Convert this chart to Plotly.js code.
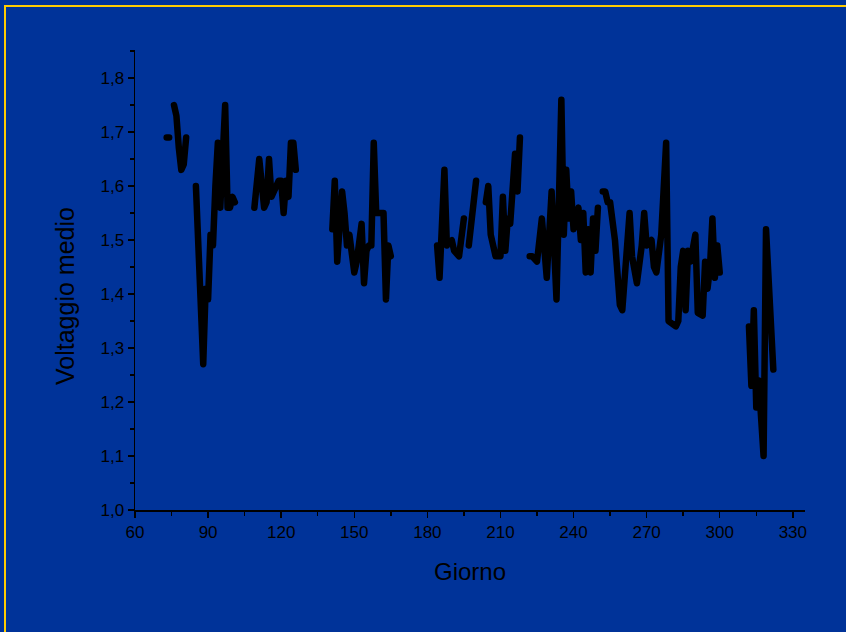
<!DOCTYPE html>
<html>
<head>
<meta charset="utf-8">
<script src="https://cdn.plot.ly/plotly-3.0.1.min.js"></script>
<style>
  html, body { margin:0; padding:0; background:#003399; overflow:hidden; }
  #frame { position:absolute; left:4px; top:5px; width:900px; height:700px; border:2px solid #FFCC00; box-sizing:border-box; }
  #chart { position:absolute; left:0; top:0; width:846px; height:632px; }
  .js-line { stroke-linecap: round; stroke-linejoin: round; }
</style>
</head>
<body>
<div id="frame"></div>
<div id="chart"></div>
<script>
// Giorno (day) and Voltaggio medio; null marks a gap in the record
const giorni = [
  73, 74, 75,
  76, 77, 78, 79, 80, 81, 83,
  85, 88, 89, 90, 91, 92, 93, 94, 95, 96, 97, 98, 99, 100, 101, 105,
  109, 111, 113, 114, 115, 116, 119, 120, 121, 122, 123, 124, 125, 126, 133,
  141, 142, 143, 145, 146, 147, 148, 149, 150, 151, 153, 154, 155, 156, 157, 158, 159, 160, 161, 162, 163, 164, 165, 175,
  184, 185, 187, 188, 189, 190, 191, 193, 195, 196, 197, 200, 202,
  204, 205, 206, 208, 210, 211, 212, 213, 214, 216, 217, 218, 220,
  222, 223, 225, 227, 229, 231, 233, 235, 236, 237, 238, 239, 240, 242, 243, 244, 245, 246, 247, 248, 249, 250, 251,
  252, 253, 254, 255, 257, 258, 259, 260, 261, 263, 264, 266, 268, 269, 270, 272, 273, 274, 275, 276, 278, 279,
  282, 283, 284, 285, 286, 287, 288, 289, 290, 291, 293, 294, 295, 296, 297, 298, 299, 300, 305,
  312, 313, 314, 315, 316, 318, 319, 321, 322
];
const voltaggio = [
  1.69, 1.69, null,
  1.75, 1.73, 1.67, 1.63, 1.64, 1.69, null,
  1.60, 1.27, 1.41, 1.39, 1.51, 1.49, 1.60, 1.68, 1.56, 1.66, 1.75, 1.56, 1.56, 1.58, 1.57, null,
  1.56, 1.65, 1.56, 1.57, 1.65, 1.58, 1.61, 1.61, 1.55, 1.61, 1.58, 1.68, 1.68, 1.63, null,
  1.52, 1.61, 1.46, 1.59, 1.55, 1.49, 1.51, 1.47, 1.44, 1.46, 1.53, 1.42, 1.48, 1.49, 1.49, 1.68, 1.55, 1.55, 1.55, 1.55, 1.39, 1.49, 1.47, null,
  1.49, 1.43, 1.63, 1.49, null, 1.50, 1.48, 1.47, 1.54, null, 1.49, 1.61, null,
  1.57, 1.60, 1.51, 1.47, 1.47, 1.58, 1.48, 1.54, 1.53, 1.66, 1.59, 1.69, null,
  1.47, 1.47, 1.46, 1.54, 1.43, 1.59, 1.39, 1.76, 1.51, 1.63, 1.54, 1.59, 1.52, 1.56, 1.50, 1.55, 1.44, 1.52, 1.44, 1.54, 1.48, 1.56, null,
  1.59, 1.59, 1.57, 1.57, 1.50, 1.41, 1.38, 1.37, 1.44, 1.55, 1.47, 1.42, 1.49, 1.55, 1.49, 1.50, 1.45, 1.44, 1.475, 1.51, 1.68, 1.35,
  1.34, 1.35, 1.45, 1.48, 1.37, 1.48, 1.46, 1.48, 1.51, 1.365, 1.36, 1.46, 1.41, 1.45, 1.54, 1.43, 1.49, 1.44, null,
  1.34, 1.23, 1.37, 1.19, 1.24, 1.10, 1.52, 1.32, 1.26
];
const xTicks = [60, 90, 120, 150, 180, 210, 240, 270, 300, 330];
const yTicks = [1.0, 1.1, 1.2, 1.3, 1.4, 1.5, 1.6, 1.7, 1.8];
const xTitle = 'Giorno';
const yTitle = 'Voltaggio medio';

const trace = {
  x: giorni, y: voltaggio, type: 'scatter', mode: 'lines',
  line: { color: '#000000', width: 6.5 }, connectgaps: false, hoverinfo: 'skip'
};

const fam = 'Liberation Sans, Arial, sans-serif';
const axisFont = { family: fam, size: 17, color: '#000000' };

const layout = {
  width: 846, height: 632,
  margin: { l: 135, r: 41, t: 50, b: 122 },
  paper_bgcolor: 'rgba(0,0,0,0)', plot_bgcolor: 'rgba(0,0,0,0)',
  separators: ',.',
  showlegend: false,
  font: axisFont,
  xaxis: {
    range: [60, 335], tickvals: xTicks, ticktext: xTicks.map(String),
    showline: true, linecolor: '#000000', linewidth: 1.5,
    ticks: 'outside', ticklen: 6, tickwidth: 1.5, tickcolor: '#000000',
    minor: { dtick: 15, tick0: 60, ticks: 'outside', ticklen: 4, tickwidth: 1.5, tickcolor: '#000000' },
    showgrid: false, zeroline: false, tickfont: axisFont,
    title: { text: xTitle, font: { family: fam, size: 24, color: '#000000' }, standoff: 22 }
  },
  yaxis: {
    range: [1.0, 1.852], tickvals: yTicks, tickformat: '.1f',
    showline: true, linecolor: '#000000', linewidth: 1.5,
    ticks: 'outside', ticklen: 6, tickwidth: 1.5, tickcolor: '#000000',
    minor: { dtick: 0.05, tick0: 1.0, ticks: 'outside', ticklen: 4, tickwidth: 1.5, tickcolor: '#000000' },
    showgrid: false, zeroline: false, tickfont: axisFont
  },
  annotations: [{
    text: yTitle, textangle: -90, showarrow: false,
    xref: 'paper', yref: 'paper', x: (65 - 135) / 670, y: (510 - 296) / 460,
    xanchor: 'center', yanchor: 'middle',
    font: { family: fam, size: 25, color: '#000000' }
  }]
};

Plotly.newPlot('chart', [trace], layout, { displayModeBar: false, staticPlot: true });
</script>
</body>
</html>
